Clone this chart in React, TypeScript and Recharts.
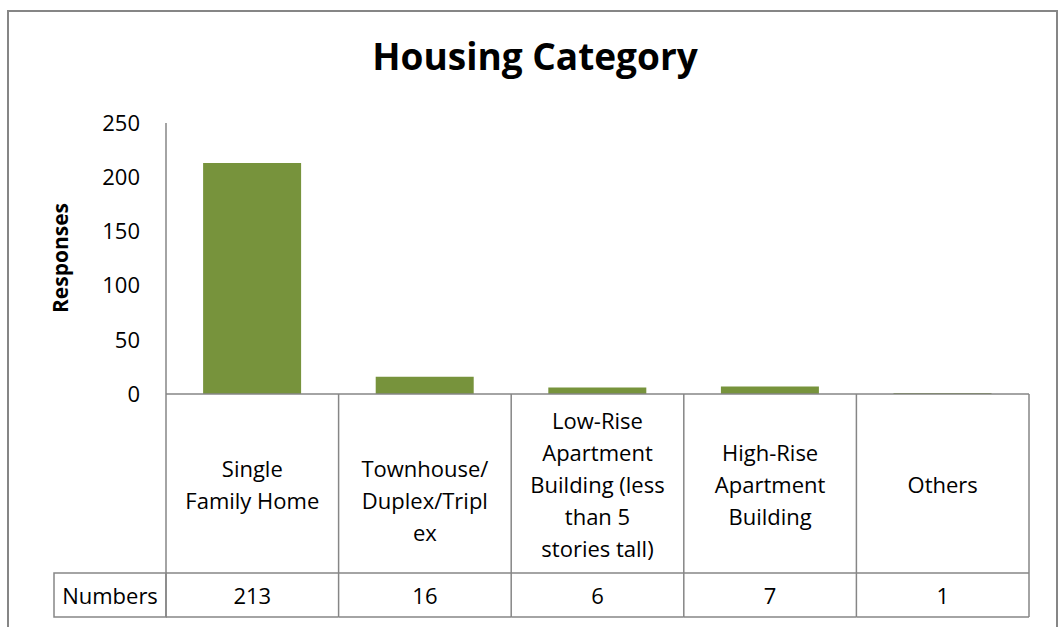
import { BarChart, Bar, XAxis, YAxis, Label } from 'recharts';

const categories = [
  'Single Family Home',
  'Townhouse/Duplex/Triplex',
  'Low-Rise Apartment Building (less than 5 stories tall)',
  'High-Rise Apartment Building',
  'Others',
];
// how Excel wrapped the category names in the data table
const labelLines = [
  ['Single', 'Family Home'],
  ['Townhouse/', 'Duplex/Tripl', 'ex'],
  ['Low-Rise', 'Apartment', 'Building (less', 'than 5', 'stories tall)'],
  ['High-Rise', 'Apartment', 'Building'],
  ['Others'],
];
const responses = [213, 16, 6, 7, 1];
const yTicks = [0, 50, 100, 150, 200, 250];

const data = categories.map((name, i) => ({ name, i, responses: responses[i] }));

const FONT = '"Open Sans", Lato, sans-serif';
const GRID = '#868686';
const GREEN = '#77933C';

const W = 1060;
const H = 627;
const AXIS_W = 166;
const MARGIN = { top: 123, right: 31, bottom: 0, left: 0 };
const X_AXIS_H = 233;
const BAND = (W - AXIS_W - MARGIN.right) / categories.length;
const LINE_H = 32;
const ROW1_H = 179;
const ROW2_H = 44;
const FS = 22;

function TableTick({ x, y, payload }: any) {
  const i = payload.index;
  const lines = labelLines[i] ?? [payload.value];
  // Townhouse label is wrapped after centring, so it hangs one line low
  const centred = i === 1 ? 2 : lines.length;
  const firstY = y + ROW1_H / 2 - ((centred - 1) * LINE_H) / 2;
  const left = x - BAND / 2;
  const right = x + BAND / 2;
  return (
    <g>
      {i === 0 && (
        <g>
          <line x1={left} y1={y} x2={left} y2={y + ROW1_H + ROW2_H} stroke={GRID} strokeWidth={1.5} />
          <rect x={54} y={y + ROW1_H} width={left - 54} height={ROW2_H} fill="none" stroke={GRID} strokeWidth={1.5} />
          <text x={(54 + left) / 2} y={y + ROW1_H + ROW2_H / 2} textAnchor="middle" dominantBaseline="central"
            fontFamily={FONT} fontSize={FS} fill="#000">Numbers</text>
        </g>
      )}
      <line x1={right} y1={y} x2={right} y2={y + ROW1_H + ROW2_H} stroke={GRID} strokeWidth={1.5} />
      <line x1={left} y1={y + ROW1_H} x2={right} y2={y + ROW1_H} stroke={GRID} strokeWidth={1.5} />
      <line x1={left} y1={y + ROW1_H + ROW2_H} x2={right} y2={y + ROW1_H + ROW2_H} stroke={GRID} strokeWidth={1.5} />
      <text textAnchor="middle" fontFamily={FONT} fontSize={FS} fill="#000">
        {lines.map((l, k) => (
          <tspan key={k} x={x} y={firstY + k * LINE_H} dominantBaseline="central">{l}</tspan>
        ))}
      </text>
      <text x={x} y={y + ROW1_H + ROW2_H / 2} textAnchor="middle" dominantBaseline="central"
        fontFamily={FONT} fontSize={FS} fill="#000">{responses[i]}</text>
    </g>
  );
}

export default function App() {
  return (
    <div style={{ position: 'fixed', left: 0, top: 0, width: W, height: H, overflow: 'hidden', background: '#fff' }}>
      <div style={{ position: 'absolute', left: 7, top: 10, width: 1051, height: 700, border: `2px solid ${GRID}`, boxSizing: 'border-box' }} />
      <svg width={W} height={H} style={{ position: 'absolute', left: 0, top: 0 }}>
        <text x={535} y={70} textAnchor="middle" fontFamily={FONT} fontWeight="bold" fontSize={37} fill="#000">
          Housing Category
        </text>
      </svg>
      <div style={{ position: 'absolute', left: 0, top: 0 }}>
        <BarChart width={W} height={H} data={data} margin={MARGIN} barCategoryGap="21.5%">
          <XAxis dataKey="name" height={X_AXIS_H} axisLine={{ stroke: GRID, strokeWidth: 1.5 }} tickLine={false}
            tickSize={0} tickMargin={0} interval={0} tick={<TableTick />} />
          <YAxis width={AXIS_W} domain={[0, 250]} ticks={yTicks} axisLine={{ stroke: GRID, strokeWidth: 1.5 }}
            tickLine={false} tickSize={0} tickMargin={26}
            tick={{ fill: '#000', fontSize: FS, fontFamily: FONT }}>
            <Label content={() => (
              <text x={60} y={258} transform="rotate(-90, 60, 258)" textAnchor="middle" dominantBaseline="central"
                fontFamily={FONT} fontWeight="bold" fontSize={21} fill="#000">Responses</text>
            )} />
          </YAxis>
          <Bar dataKey="responses" fill={GREEN} isAnimationActive={false} />
        </BarChart>
      </div>
    </div>
  );
}
